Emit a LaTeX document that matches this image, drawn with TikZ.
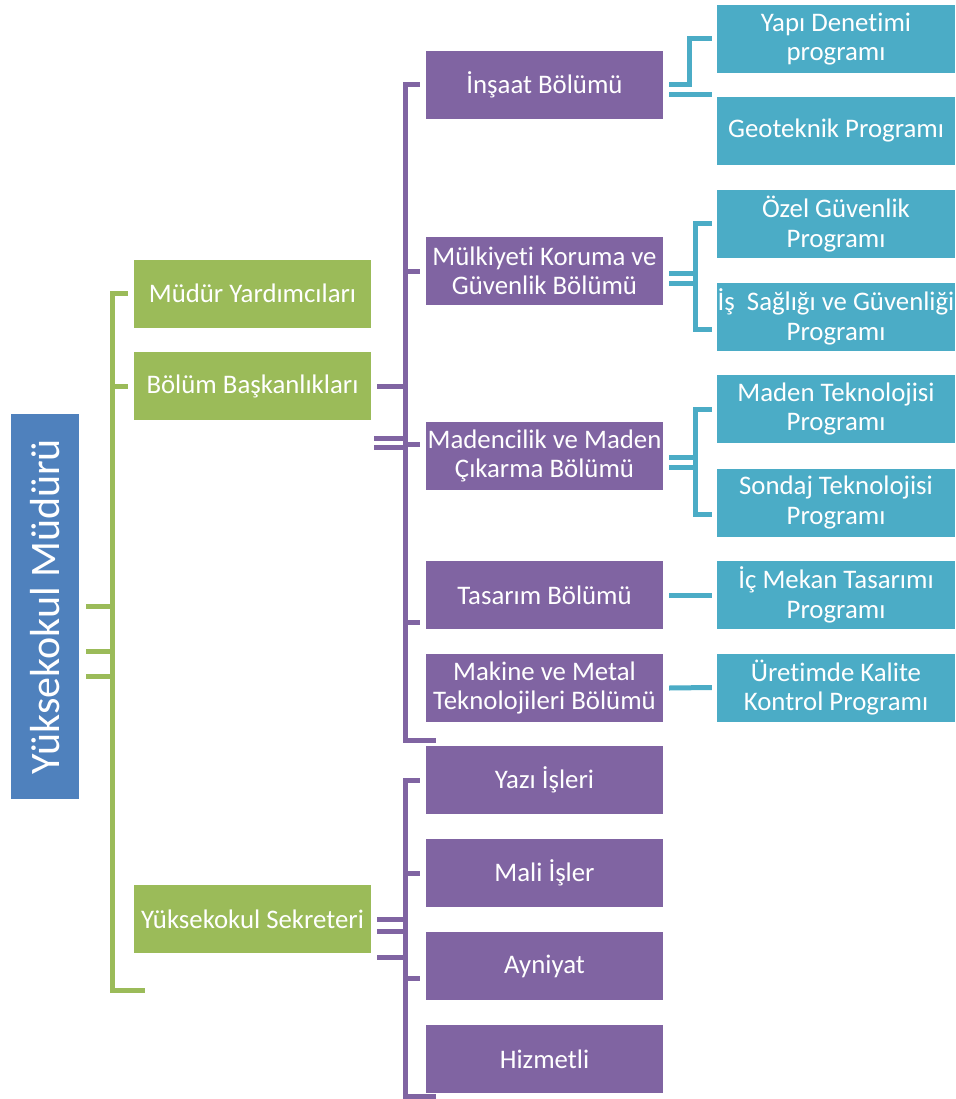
\documentclass[tikz,border=0pt]{standalone}
\usepackage{fontspec}
\setmainfont{Carlito}[Ligatures=NoCommon]
\usetikzlibrary{calc}
\definecolor{rootblue}{HTML}{4F81BD}
\definecolor{lgreen}{HTML}{9BBB59}
\definecolor{lpurple}{HTML}{8064A2}
\definecolor{lteal}{HTML}{4BACC6}
\begin{document}
\begin{tikzpicture}
[   x=1pt,y=-1pt,
    box/.style={fill=#1,text=white,inner sep=0pt,align=center,minimum height=68pt,font=\fontsize{26.8}{29.5}\selectfont},
    gnode/.style={box=lgreen,minimum width=237pt},
    pnode/.style={box=lpurple,minimum width=237pt},
    bnode/.style={box=lteal,minimum width=238pt},
    conn/.style={draw=#1,line width=5pt},
]
    \useasboundingbox (0,0) rectangle (955,1099);
    %
    \node[box=rootblue,minimum width=68pt,minimum height=385pt,font=\fontsize{42}{48}\selectfont] (root) at (45,606.5) {\rotatebox{90}{Yüksekokul Müdürü}};

    \node[gnode] (my) at (252.5,293.5) {Müdür Yardımcıları};
    \node[gnode] (bb) at (252.5,386) {Bölüm Başkanlıkları};
    \node[gnode] (ys) at (252.5,919) {Yüksekokul Sekreteri};

    \node[pnode] (insaat) at (544.5,85) {İnşaat Bölümü};
    \node[pnode] (mulk) at (544.5,271) {Mülkiyeti Koruma ve\\Güvenlik Bölümü};
    \node[pnode] (maden) at (544.5,456) {Madencilik ve Maden\\Çıkarma Bölümü};
    \node[pnode] (tas) at (544.5,595) {Tasarım Bölümü};
    \node[pnode] (mak) at (544.5,688) {Makine ve Metal\\Teknolojileri Bölümü};

    \foreach \t/\y [count=\k] in {Yazı İşleri/780,Mali İşler/873,Ayniyat/966,Hizmetli/1059}
    {   
        \node[pnode] (s-\k) at (544.5,\y) {\t};
    }

    \node[bnode] (yapi) at (836,39) {Yapı Denetimi\\programı};
    \node[bnode] (geo) at (836,131) {Geoteknik Programı};
    \node[bnode] (ozel) at (836,224) {Özel Güvenlik\\Programı};
    \node[bnode] (isg) at (836,317) {İş\ \ Sağlığı ve Güvenliği\\Programı};
    \node[bnode] (mt) at (836,409) {Maden Teknolojisi\\Programı};
    \node[bnode] (st) at (836,502.5) {Sondaj Teknolojisi\\Programı};
    \node[bnode] (icm) at (836,595) {İç Mekan Tasarımı\\Programı};
    \node[bnode] (urk) at (836,687.5) {Üretimde Kalite\\Kontrol Programı};

    % green bracket
    \coordinate (gbot) at (112,990);
    \coordinate (gend) at (145,990);
    \draw[conn=lgreen] ([xshift=-6pt]my.west) -| (gbot) -- (gend);
    \draw[conn=lgreen] ([xshift=-6pt]bb.west) -- (bb.west -| gbot);
    \foreach \dy in {0,45,70}
    {   
        \draw[conn=lgreen] ($(root.east)+(7,\dy)$) -- ($(root.east -| gbot)+(0,\dy)$);
    }

    % purple brackets
    \coordinate (pbot) at (405,740);
    \coordinate (pend) at (436,740);
    \draw[conn=lpurple] ([xshift=-6pt]insaat.west) -| (pbot) -- (pend);
    \draw[conn=lpurple] ([xshift=-6pt]mulk.west) -- (mulk.west -| pbot);
    \draw[conn=lpurple] ($(maden.west)+(-6,-12)$) -- ($(maden.west -| pbot)+(0,-12)$);
    \draw[conn=lpurple] ($(tas.west)+(-6,27)$) -- ($(tas.west -| pbot)+(0,27)$);
    \foreach \dy/\dx in {0/6,52/3,61/3}
    {   
        \draw[conn=lpurple] ($(bb.east)+(\dx,\dy)$) -- ($(bb.east -| pbot)+(0,\dy)$);
    }

    \coordinate (qbot) at (405,1096);
    \coordinate (qend) at (436,1096);
    \draw[conn=lpurple] ([xshift=-6pt]s-1.west) -| (qbot) -- (qend);
    \draw[conn=lpurple] ([xshift=-6pt]s-2.west) -- (s-2.west -| qbot);
    \draw[conn=lpurple] ($(s-3.west)+(-6,12)$) -- ($(s-3.west -| qbot)+(0,12)$);
    \foreach \dy in {0,12,38}
    {   
        \draw[conn=lpurple] ($(ys.east)+(6,\dy)$) -- ($(ys.east -| qbot)+(0,\dy)$);
    }

    % teal brackets
    \draw[conn=lteal] ([xshift=6pt]insaat.east) -| ($(yapi.west)+(-27,0)$) -- ([xshift=-5pt]yapi.west);
    \draw[conn=lteal] ($(insaat.east)+(6,10)$) -- ($(insaat.east -| geo.west)+(-5,10)$);
    \draw[conn=lteal] ([xshift=-5pt]ozel.west) -- ++(-16,0) |- ($(isg.west)+(-5,12)$);
    \draw[conn=lteal] ([xshift=-5pt]mt.west) -- ++(-16,0) |- ($(st.west)+(-5,12)$);
    \foreach \dy in {2,12}
    {   
        \draw[conn=lteal] ($(mulk.east)+(6,\dy)$) -- ($(mulk.east -| ozel.west)+(-21,\dy)$);
    }
    \foreach \dy in {1,11}
    {   
        \draw[conn=lteal] ($(maden.east)+(6,\dy)$) -- ($(maden.east -| mt.west)+(-21,\dy)$);
    }
    \draw[conn=lteal] ([xshift=6pt]tas.east) -- ([xshift=-5pt]icm.west);
    \draw[conn=lteal] ([xshift=6pt]mak.east) -- ([xshift=-5pt]urk.west);
\end{tikzpicture}
\end{document}
